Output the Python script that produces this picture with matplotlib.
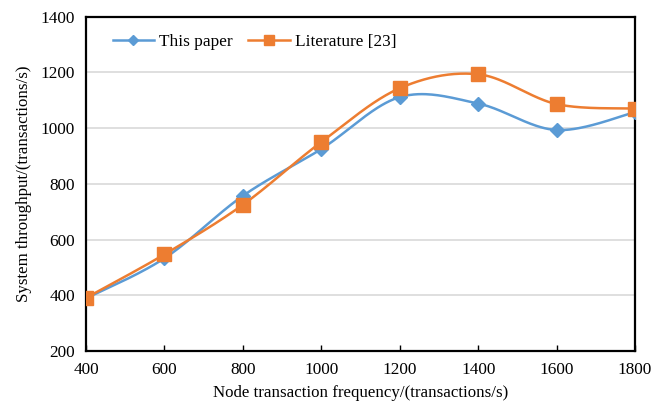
import numpy as np
import matplotlib.pyplot as plt

freq = [400, 600, 800, 1000, 1200, 1400, 1600, 1800]
this_paper = [389, 533, 757, 925, 1111, 1088, 993, 1057]
literature = [391, 547, 725, 950, 1143, 1193, 1086, 1070]


def smooth(x, y, n=40):
    # Catmull-Rom style smoothing, similar to Excel's smoothed line
    x = np.asarray(x, float)
    y = np.asarray(y, float)
    px = np.concatenate([[x[0]], x, [x[-1]]])
    py = np.concatenate([[y[0]], y, [y[-1]]])
    xs, ys = [], []
    t = np.linspace(0, 1, n)
    for i in range(1, len(px) - 2):
        p0 = np.array([px[i], py[i]])
        p3 = np.array([px[i + 1], py[i + 1]])
        c1 = p0 + (np.array([px[i + 1], py[i + 1]]) - np.array([px[i - 1], py[i - 1]])) / 6
        c2 = p3 - (np.array([px[i + 2], py[i + 2]]) - np.array([px[i], py[i]])) / 6
        b = ((1 - t) ** 3)[:, None] * p0 + (3 * (1 - t) ** 2 * t)[:, None] * c1 \
            + (3 * (1 - t) * t ** 2)[:, None] * c2 + (t ** 3)[:, None] * p3
        xs.extend(b[:, 0])
        ys.extend(b[:, 1])
    return xs, ys


plt.rcParams['font.family'] = ['Liberation Serif', 'DejaVu Serif']

fig = plt.figure(figsize=(6.52, 4.04), dpi=100)
ax = fig.add_axes([0.132, 0.131, 0.842, 0.828])

blue = "#5B9BD5"
orange = "#ED7D31"

sx, sy = smooth(freq, this_paper)
ax.plot(sx, sy, color=blue, lw=1.8, zorder=3)
ax.plot(freq, this_paper, ls="none", marker="D", ms=7, color=blue, zorder=4)
sx, sy = smooth(freq, literature)
ax.plot(sx, sy, color=orange, lw=1.8, zorder=3)
ax.plot(freq, literature, ls="none", marker="s", ms=10, color=orange, zorder=4)

# legend proxies
ax.plot([], [], color=blue, lw=1.8, marker="D", ms=5, label="This paper")
ax.plot([], [], color=orange, lw=1.8, marker="s", ms=7, label="Literature [23]")
handles, labels = ax.get_legend_handles_labels()
ax.legend(handles, labels, loc="upper left", ncol=2, frameon=False, fontsize=12.4,
          bbox_to_anchor=(0.02, 0.995), handlelength=2.4, columnspacing=0.9,
          handletextpad=0.3)

ax.set_xlim(400, 1800)
ax.set_ylim(200, 1400)
ax.set_xticks(freq)
ax.set_yticks(range(200, 1401, 200))
ax.grid(axis="y", color="#D9D9D9", lw=1.2)
ax.set_axisbelow(True)
for s in ax.spines.values():
    s.set_linewidth(1.6)
    s.set_color("black")
ax.tick_params(axis="x", direction="in", length=4, width=1, labelsize=12.4, pad=8)
ax.tick_params(axis="y", length=0, labelsize=12.4, pad=8)

ax.set_xlabel("Node transaction frequency/(transactions/s)", fontsize=12.2, labelpad=5)
ax.set_ylabel("System throughput/(transactions/s)", fontsize=12.2, labelpad=6)

fig.savefig("out.png", dpi=100)
